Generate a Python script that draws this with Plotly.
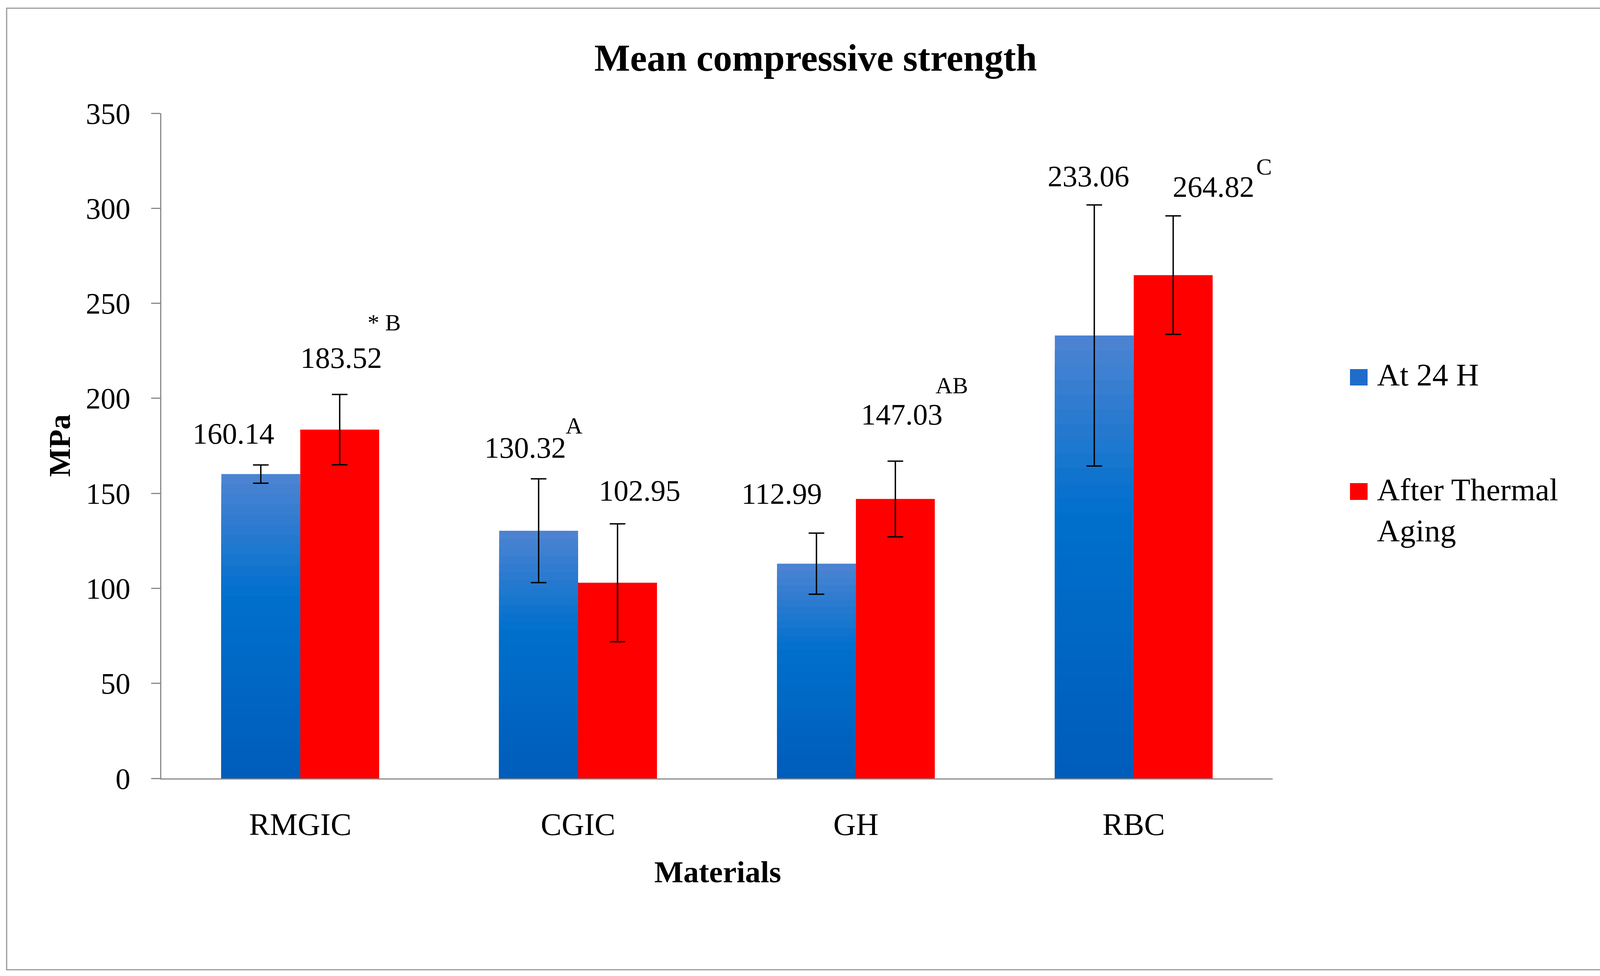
import plotly.graph_objects as go

# ---------------- data ----------------
categories = ["RMGIC", "CGIC", "GH", "RBC"]
series_names = ["At 24 H", "After Thermal Aging"]
mean_24h = [160.14, 130.32, 112.99, 233.06]
mean_aged = [183.52, 102.95, 147.03, 264.82]
sd_24h = [4.8, 27.3, 16.1, 68.7]
sd_aged = [18.5, 31.0, 19.9, 31.2]
sig_letters = ["* B", "A", "AB", "C"]
y_ticks = [0, 50, 100, 150, 200, 250, 300, 350]

# label placement (category units offset from category centre, data-unit height)
label_dx_24h = [-0.241, -0.191, -0.268, -0.163]
label_y_24h = [181.5, 174.0, 149.8, 317.0]
label_dx_aged = [0.148, 0.221, 0.165, 0.287]
label_y_aged = [221.3, 151.4, 191.5, 311.3]
sig_dx = [0.302, -0.015, 0.345, 0.469]
sig_y = [239.8, 185.6, 206.8, 321.9]

# ---------------- layout geometry (pixels) ----------------
W, H = 4182, 2499
L, R, T, B = 413, 3258, 290, 1993


def px(x):
    return (x - L) / (R - L)


def py(y):
    return (B - y) / (B - T)


FONT = "Liberation Serif"
BAR_W = 0.284
RED = "#FF0000"
N_SEG = 30


def blue_at(t):
    # t = 0 at top of bar, 1 at bottom
    c_top = (78, 132, 210)
    c_mid = (0, 112, 205)
    c_bot = (0, 92, 186)
    if t < 0.4:
        f = t / 0.4
        a, b = c_top, c_mid
    else:
        f = (t - 0.4) / 0.6
        a, b = c_mid, c_bot
    c = [round(a[i] + (b[i] - a[i]) * f) for i in range(3)]
    return "rgb(%d,%d,%d)" % tuple(c)


xs = list(range(len(categories)))
fig = go.Figure()

# gradient-filled blue bars: successively shorter overlapping bars, lighter at top
for k in range(N_SEG):
    t = (k + 0.5) / N_SEG
    fig.add_trace(go.Bar(
        x=xs,
        y=[v * (N_SEG - k) / N_SEG for v in mean_24h],
        width=BAR_W, offset=-BAR_W,
        marker=dict(color=blue_at(t), line=dict(width=0)),
        showlegend=False, hoverinfo="skip",
    ))

# blue series trace carrying the error bars
fig.add_trace(go.Bar(
    x=xs, y=mean_24h, name=series_names[0],
    width=BAR_W, offset=-BAR_W,
    marker=dict(color="rgba(0,0,0,0)", line=dict(width=0)),
    error_y=dict(type="data", array=sd_24h, visible=True,
                 color="black", thickness=3.5, width=20),
    showlegend=False,
))

fig.add_trace(go.Bar(
    x=xs, y=mean_aged, name=series_names[1],
    width=BAR_W, offset=0,
    marker=dict(color=RED, line=dict(width=0)),
    error_y=dict(type="data", array=sd_aged, visible=True,
                 color="black", thickness=3.5, width=20),
    showlegend=False,
))

annotations = []
for i in xs:
    annotations.append(dict(x=i + label_dx_24h[i], y=label_y_24h[i], xref="x", yref="y",
                            text=f"{mean_24h[i]:.2f}", showarrow=False,
                            xanchor="center", yanchor="middle",
                            font=dict(family=FONT, size=76, color="black")))
    annotations.append(dict(x=i + label_dx_aged[i], y=label_y_aged[i], xref="x", yref="y",
                            text=f"{mean_aged[i]:.2f}", showarrow=False,
                            xanchor="center", yanchor="middle",
                            font=dict(family=FONT, size=76, color="black")))
    annotations.append(dict(x=i + sig_dx[i], y=sig_y[i], xref="x", yref="y",
                            text=sig_letters[i], showarrow=False,
                            xanchor="center", yanchor="middle",
                            font=dict(family=FONT, size=60, color="black")))

# axis titles
annotations.append(dict(x=px(152), y=py(1141), xref="paper", yref="paper",
                        text="<b>MPa</b>", textangle=-90, showarrow=False,
                        xanchor="center", yanchor="middle",
                        font=dict(family=FONT, size=78, color="black")))
annotations.append(dict(x=px(1837), y=py(2232), xref="paper", yref="paper",
                        text="<b>Materials</b>", showarrow=False,
                        xanchor="center", yanchor="middle",
                        font=dict(family=FONT, size=79, color="black")))

# legend (custom, large swatches)
annotations.append(dict(x=px(3523), y=py(960), xref="paper", yref="paper",
                        text=series_names[0], showarrow=False, xanchor="left", yanchor="middle",
                        font=dict(family=FONT, size=81, color="black")))
annotations.append(dict(x=px(3523), y=py(1306), xref="paper", yref="paper",
                        text="After Thermal<br>Aging", showarrow=False, xanchor="left",
                        yanchor="middle", align="left",
                        font=dict(family=FONT, size=81, color="black")))

shapes = [
    dict(type="rect", xref="paper", yref="paper",
         x0=px(17), x1=px(4162), y0=py(2483), y1=py(21),
         line=dict(color="#9a9a9a", width=3), fillcolor="rgba(0,0,0,0)", layer="below"),
    dict(type="rect", xref="paper", yref="paper",
         x0=px(3456), x1=px(3501), y0=py(987), y1=py(945),
         line=dict(width=0), fillcolor="#1f6ccb"),
    dict(type="rect", xref="paper", yref="paper",
         x0=px(3456), x1=px(3501), y0=py(1280), y1=py(1237),
         line=dict(width=0), fillcolor=RED),
]

fig.update_layout(
    width=W, height=H,
    margin=dict(l=L, r=W - R, t=T, b=H - B, pad=0),
    paper_bgcolor="white", plot_bgcolor="white",
    barmode="overlay",
    showlegend=False,
    title=dict(text="<b>Mean compressive strength</b>", x=0.4993, xref="container",
               y=1 - 147 / H, yref="container", xanchor="center", yanchor="middle",
               font=dict(family=FONT, size=97, color="black")),
    font=dict(family=FONT, color="black"),
    annotations=annotations,
    shapes=shapes,
)

fig.update_xaxes(
    range=[-0.5, 3.5], tickmode="array", tickvals=xs, ticktext=categories,
    showline=True, linecolor="#898989", linewidth=3, ticks="",
    showgrid=False, zeroline=False,
    tickfont=dict(family=FONT, size=80, color="black"),
    ticklabelstandoff=46,
)
fig.update_yaxes(
    range=[0, 350], tickmode="array", tickvals=y_ticks,
    showline=True, linecolor="#898989", linewidth=3,
    ticks="outside", ticklen=23, tickwidth=3, tickcolor="#898989",
    showgrid=False, zeroline=False,
    tickfont=dict(family=FONT, size=76, color="black"),
    ticklabelstandoff=38,
)

fig.write_html("out.html",
               config={"displayModeBar": False},
               post_script="document.body.style.margin='0';document.body.style.overflow='hidden';")
